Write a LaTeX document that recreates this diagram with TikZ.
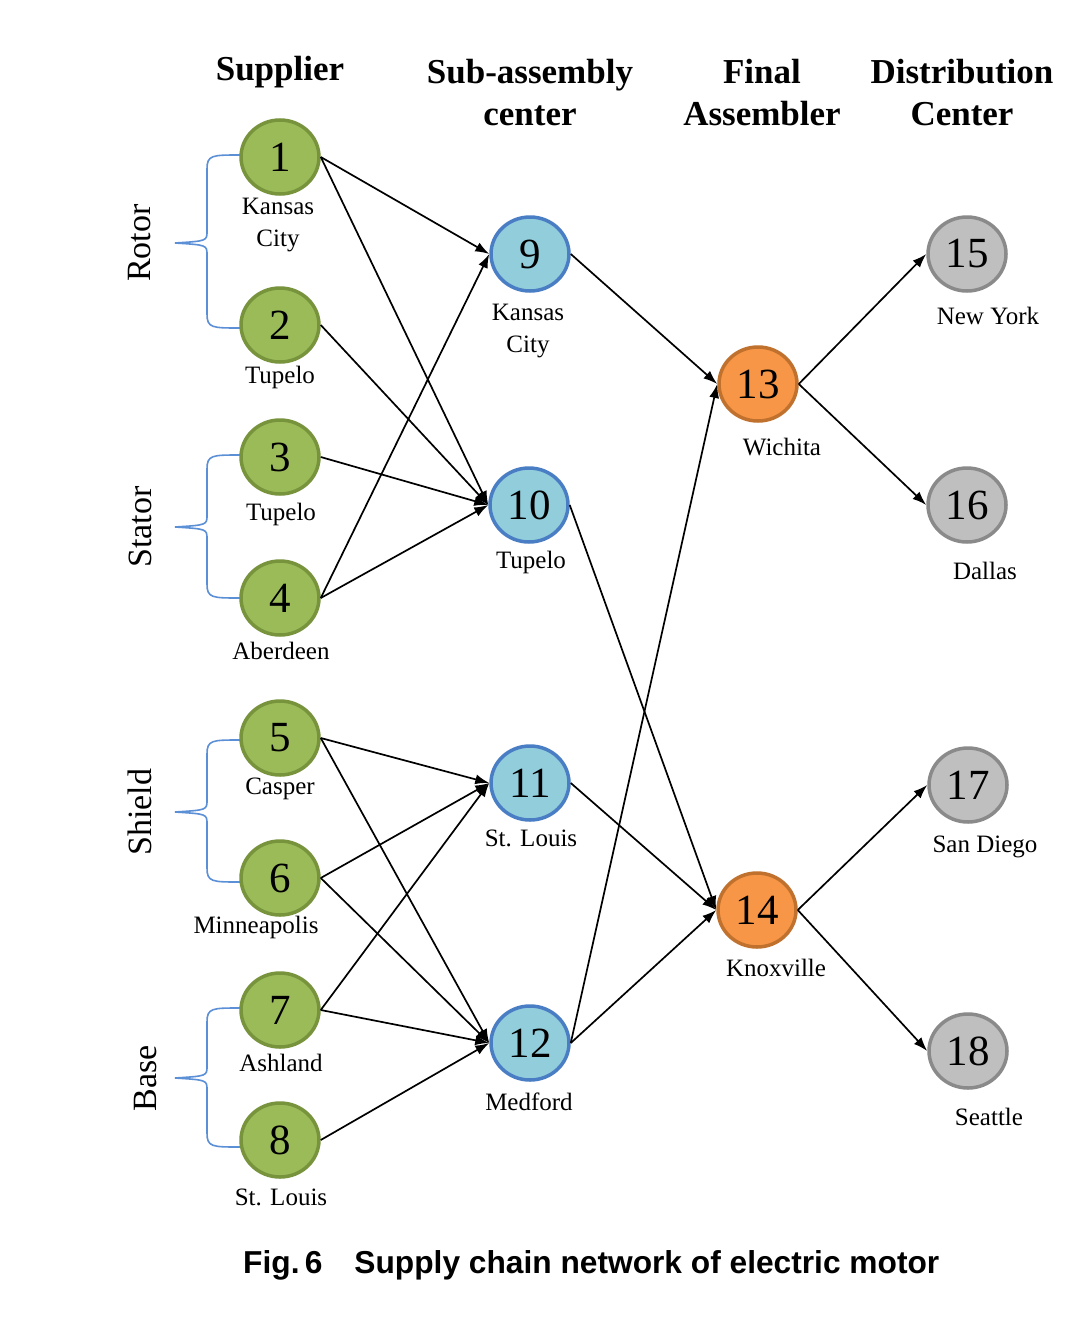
\documentclass[tikz,border=0pt]{standalone}
\usepackage{fontspec}
\setmainfont{Liberation Serif}
\newfontfamily\capfont{Liberation Sans}
\usetikzlibrary{shapes.geometric,arrows.meta}
\definecolor{gfill}{HTML}{9BBB59}
\definecolor{gdraw}{HTML}{77933C}
\definecolor{bfill}{HTML}{92CDDC}
\definecolor{bdraw}{HTML}{4A7EC4}
\definecolor{ofill}{HTML}{F79646}
\definecolor{odraw}{HTML}{C0712E}
\definecolor{yfill}{HTML}{BFBFBF}
\definecolor{ydraw}{HTML}{8A8A8A}
\definecolor{brc}{HTML}{5B8FD6}
\tikzset{
  nd/.style={ellipse, minimum width=78pt, minimum height=74pt, inner sep=0pt, line width=3.5pt,
    font=\fontsize{43}{46}\selectfont},
  sup/.style={nd, fill=gfill, draw=gdraw},
  sub/.style={nd, fill=bfill, draw=bdraw},
  fin/.style={nd, fill=ofill, draw=odraw},
  dis/.style={nd, fill=yfill, draw=ydraw},
  lab/.style={font=\fontsize{25}{32}\selectfont, align=center, inner sep=0pt},
  hdr/.style={font=\bfseries\fontsize{35}{42}\selectfont, align=center, inner sep=0pt},
  grp/.style={font=\fontsize{34}{40}\selectfont, rotate=90, inner sep=0pt},
  ar/.style={-{Latex[length=14pt,width=10pt]}, line width=1.7pt, black},
  brace/.style={draw=brc, line width=1.6pt}
}
\newcommand{\mybrace}[3]{% y1, ymid, y2
  \draw[brace] (240,#1) .. controls (212,#1) and (207,#1) .. (207,#1+14) -- (207,#2-12)
     .. controls (207,#2-2) .. (175,#2) .. controls (207,#2+2) .. (207,#2+12)
     -- (207,#3-14) .. controls (207,#3) and (212,#3) .. (240,#3);
}
\begin{document}
\begin{tikzpicture}[x=1pt,y=-1pt]
\useasboundingbox (0,0) rectangle (1070,1317);
\fill[white] (0,0) rectangle (1070,1317);

% headers
\node[hdr] (h1) at (280,72) {Supplier};
\node[hdr] (h2) at (530,93) {Sub-assembly\\center};
\node[hdr] (h3) at (762,93) {Final\\Assembler};
\node[hdr] (h4) at (962,93) {Distribution\\Center};

% braces and group labels
\mybrace{155}{243}{328}
\mybrace{455}{527}{598}
\mybrace{740}{812}{882}
\mybrace{1008}{1078}{1147}
\node[grp] (gr) at (140,243) {Rotor};
\node[grp] (gs) at (140,527) {Stator};
\node[grp] (gh) at (140,812) {Shield};
\node[grp] (gb) at (146,1078) {Base};

% nodes
\node[sup] (n1) at (280,157) {1};
\node[sup] (n2) at (280,325) {2};
\node[sup] (n3) at (280,457) {3};
\node[sup] (n4) at (280,598) {4};
\node[sup] (n5) at (280,738) {5};
\node[sup] (n6) at (280,878) {6};
\node[sup] (n7) at (280,1010) {7};
\node[sup] (n8) at (280,1140) {8};
\node[sub] (n9) at (530,254) {9};
\node[sub] (n10) at (529,505) {10};
\node[sub] (n11) at (530,783) {11};
\node[sub] (n12) at (530,1043) {12};
\node[fin] (n13) at (758,384) {13};
\node[fin] (n14) at (757,910) {14};
\node[dis] (n15) at (967,254) {15};
\node[dis] (n16) at (967,505) {16};
\node[dis] (n17) at (968,785) {17};
\node[dis] (n18) at (968,1051) {18};

% labels
\node[lab] (l1) at (278,225) {Kansas\\City};
\node[lab] (l2) at (280,377) {Tupelo};
\node[lab] (l3) at (281,514) {Tupelo};
\node[lab] (l4) at (281,651) {Aberdeen};
\node[lab] (l5) at (280,789) {Casper};
\node[lab] (l6) at (256,927) {Minneapolis};
\node[lab] (l7) at (281,1063) {Ashland};
\node[lab] (l8) at (281,1197) {St. Louis};
\node[lab] (l9) at (528,331) {Kansas\\City};
\node[lab] (l10) at (531,562) {Tupelo};
\node[lab] (l11) at (531,838) {St. Louis};
\node[lab] (l12) at (529,1102) {Medford};
\node[lab] (l13) at (782,447) {Wichita};
\node[lab] (l14) at (776,968) {Knoxville};
\node[lab] (l15) at (988,316) {New York};
\node[lab] (l16) at (985,571) {Dallas};
\node[lab] (l17) at (985,847) {San Diego};
\node[lab] (l18) at (989,1117) {Seattle};

% edges
\draw[ar] (n1.east) -- (n9.west);
\draw[ar] (n1.east) -- (n10.west);
\draw[ar] (n2.east) -- (n10.west);
\draw[ar] (n3.east) -- (n10.west);
\draw[ar] (n4.east) -- (n9.west);
\draw[ar] (n4.east) -- (n10.west);
\draw[ar] (n5.east) -- (n11.west);
\draw[ar] (n5.east) -- (n12.west);
\draw[ar] (n6.east) -- (n11.west);
\draw[ar] (n6.east) -- (n12.west);
\draw[ar] (n7.east) -- (n11.west);
\draw[ar] (n7.east) -- (n12.west);
\draw[ar] (n8.east) -- (n12.west);
\draw[ar] (n9.east) -- (n13.west);
\draw[ar] (n10.east) -- (n14.west);
\draw[ar] (n11.east) -- (n14.west);
\draw[ar] (n12.east) -- (n13.west);
\draw[ar] (n12.east) -- (n14.west);
\draw[ar] (n13.east) -- (n15.west);
\draw[ar] (n13.east) -- (n16.west);
\draw[ar] (n14.east) -- (n17.west);
\draw[ar] (n14.east) -- (n18.west);

% caption
\node[font=\capfont\bfseries\fontsize{31.7}{36}\selectfont, inner sep=0pt, anchor=west] (cap) at (243,1265)
  {Fig.\,6\hspace{32pt}Supply chain network of electric motor};
\end{tikzpicture}
\end{document}
